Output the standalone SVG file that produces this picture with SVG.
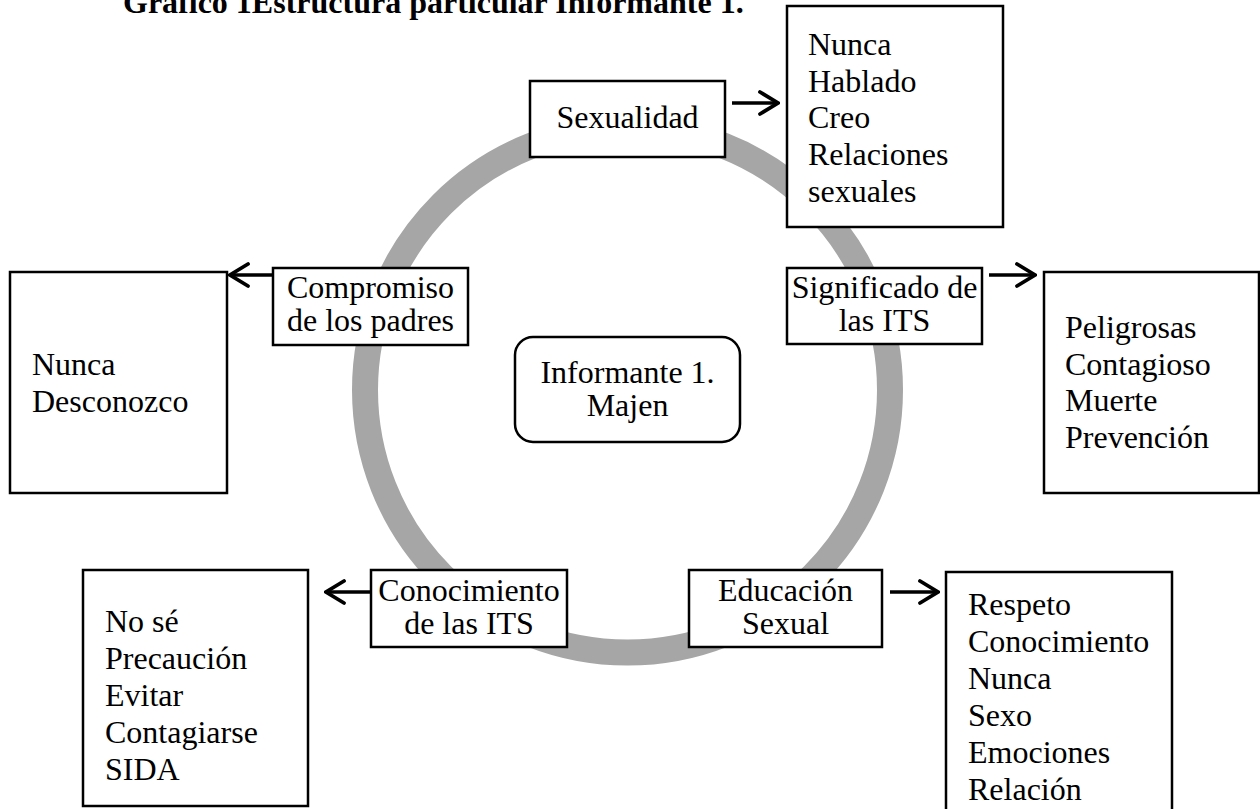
<svg xmlns="http://www.w3.org/2000/svg" width="1260" height="809" viewBox="0 0 1260 809">
<style>
text{font-family:"Liberation Serif","Times New Roman",serif;font-size:32px;fill:#000}
.t{font-weight:bold}
.c{text-anchor:middle}
.box{fill:#fff;stroke:#000;stroke-width:2.5}
.ring{fill:none;stroke:#a6a6a6;stroke-width:26}
.arr{fill:none;stroke:#000;stroke-width:3.5;marker-end:url(#ah)}
</style>
<defs>
<marker id="ah" markerUnits="userSpaceOnUse" viewBox="0 0 22 26" markerWidth="22" markerHeight="26" refX="20" refY="13" orient="auto">
<path d="M2,2 L20,13 L2,24" fill="none" stroke="#000" stroke-width="3.8" stroke-linecap="round" stroke-linejoin="miter"/>
</marker>
</defs>
<rect width="1260" height="809" fill="#fff"/>
<text class="t" x="123" y="13">Gráfico 1Estructura particular Informante 1.</text>
<circle class="ring" cx="627.5" cy="390" r="262.5"/>
<g id="connectors">
<line class="arr" x1="732" y1="103" x2="778" y2="103"/>
<line class="arr" x1="989" y1="275" x2="1035" y2="275"/>
<line class="arr" x1="277" y1="275" x2="230" y2="275"/>
<line class="arr" x1="371" y1="592" x2="326" y2="592"/>
<line class="arr" x1="890" y1="592" x2="938" y2="592"/>
</g>
<g id="sexualidad">
<rect class="box" x="530" y="81" width="195" height="76"/>
<text class="c" x="627.5" y="128">Sexualidad</text>
</g>
<g id="sexualidad-list">
<rect class="box" x="787" y="6" width="216" height="221"/>
<text x="808" y="55">Nunca</text>
<text x="808" y="92">Hablado</text>
<text x="808" y="128">Creo</text>
<text x="808" y="165">Relaciones</text>
<text x="808" y="202">sexuales</text>
</g>
<g id="compromiso">
<rect class="box" x="273" y="268" width="195" height="77"/>
<text class="c" x="370.5" y="298">Compromiso</text>
<text class="c" x="370.5" y="331">de los padres</text>
</g>
<g id="compromiso-list">
<rect class="box" x="10" y="272" width="217" height="221"/>
<text x="32" y="375">Nunca</text>
<text x="32" y="412">Desconozco</text>
</g>
<g id="significado">
<rect class="box" x="787" y="268" width="195" height="76"/>
<text class="c" x="884.5" y="298">Significado de</text>
<text class="c" x="884.5" y="331">las ITS</text>
</g>
<g id="significado-list">
<rect class="box" x="1044" y="272" width="215" height="221"/>
<text x="1065" y="338">Peligrosas</text>
<text x="1065" y="375">Contagioso</text>
<text x="1065" y="411">Muerte</text>
<text x="1065" y="448">Prevención</text>
</g>
<g id="informante">
<rect class="box" x="515" y="337" width="225" height="105" rx="18" ry="18"/>
<text class="c" x="627.5" y="383">Informante 1.</text>
<text class="c" x="627.5" y="416">Majen</text>
</g>
<g id="conocimiento">
<rect class="box" x="371" y="570" width="196" height="77"/>
<text class="c" x="469" y="601">Conocimiento</text>
<text class="c" x="469" y="634">de las ITS</text>
</g>
<g id="conocimiento-list">
<rect class="box" x="83" y="570" width="225" height="236"/>
<text x="105" y="632">No sé</text>
<text x="105" y="669">Precaución</text>
<text x="105" y="706">Evitar</text>
<text x="105" y="743">Contagiarse</text>
<text x="105" y="780">SIDA</text>
</g>
<g id="educacion">
<rect class="box" x="689" y="570" width="193" height="77"/>
<text class="c" x="785.5" y="601">Educación</text>
<text class="c" x="785.5" y="634">Sexual</text>
</g>
<g id="educacion-list">
<rect class="box" x="946" y="572" width="226" height="245"/>
<text x="968" y="615">Respeto</text>
<text x="968" y="652">Conocimiento</text>
<text x="968" y="689">Nunca</text>
<text x="968" y="726">Sexo</text>
<text x="968" y="763">Emociones</text>
<text x="968" y="800">Relación</text>
</g>
</svg>
